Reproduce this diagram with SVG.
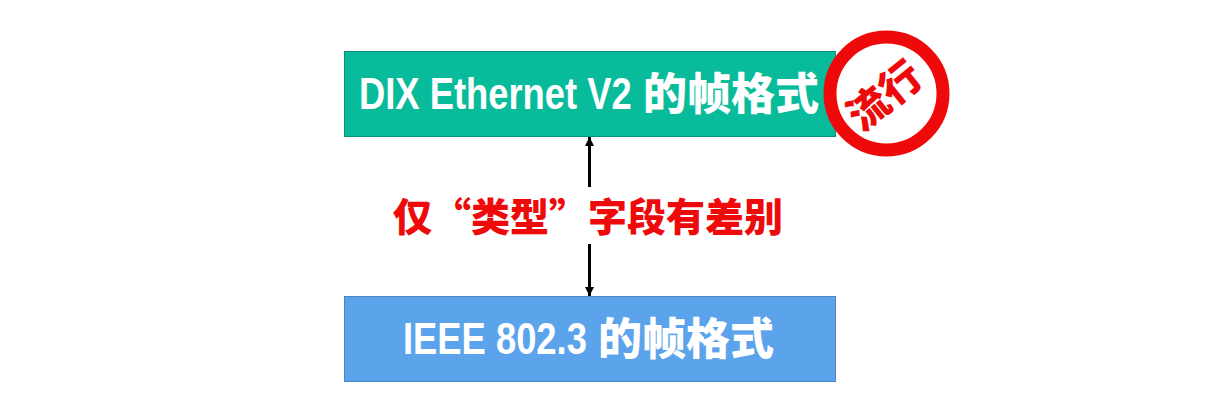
<svg xmlns="http://www.w3.org/2000/svg" width="1218" height="418" viewBox="0 0 1218 418">
<style>
text{font-family:"Liberation Sans","Noto Sans CJK SC",sans-serif;font-weight:700}
.l{font-size:45px;fill:#fff}
.h{font-family:"Noto Sans CJK SC",sans-serif;font-size:44px;font-weight:900;fill:#fff}
.c{stroke:#000;stroke-width:3;fill:none}
.r{font-family:"Noto Sans CJK SC",sans-serif;fill:#ee0a0a;font-weight:900}
</style>
<defs>
<marker id="a" markerUnits="userSpaceOnUse" markerWidth="10" markerHeight="10" refX="9" refY="4.500" orient="auto"><path d="M0 0L9 4.500L0 9Z" fill="#000"/></marker>
</defs>
<rect width="1218" height="418" fill="#fff"/>
<g id="connectors">
<line class="c" x1="589.500" y1="187" x2="589.500" y2="137" marker-end="url(#a)"/>
<line class="c" x1="589.500" y1="244" x2="589.500" y2="296" marker-end="url(#a)"/>
</g>
<g id="dix">
<rect x="344.500" y="51.500" width="491" height="85" fill="#08bb9a" stroke="#0a8f78"/>
<text class="l" transform="translate(359 109) scale(.808 1)">DIX Ethernet V2</text>
<text class="h" x="643" y="110">的帧格式</text>
</g>
<g id="ieee">
<rect x="344.500" y="296.500" width="491" height="85" fill="#5ba3ea" stroke="#4a85c0"/>
<text class="l" transform="translate(403 354) scale(.808 1)">IEEE 802.3</text>
<text class="h" x="598" y="355">的帧格式</text>
</g>
<g id="note">
<text class="r" x="393" y="231" font-size="39">仅“类型”字段有差别</text>
</g>
<g id="stamp">
<circle cx="886.500" cy="93.500" r="56.500" fill="#fff" stroke="#ee0a0a" stroke-width="13"/>
<text class="r" x="885" y="110" font-size="41" text-anchor="middle" transform="rotate(-39 885 96)">流行</text>
</g>
</svg>
